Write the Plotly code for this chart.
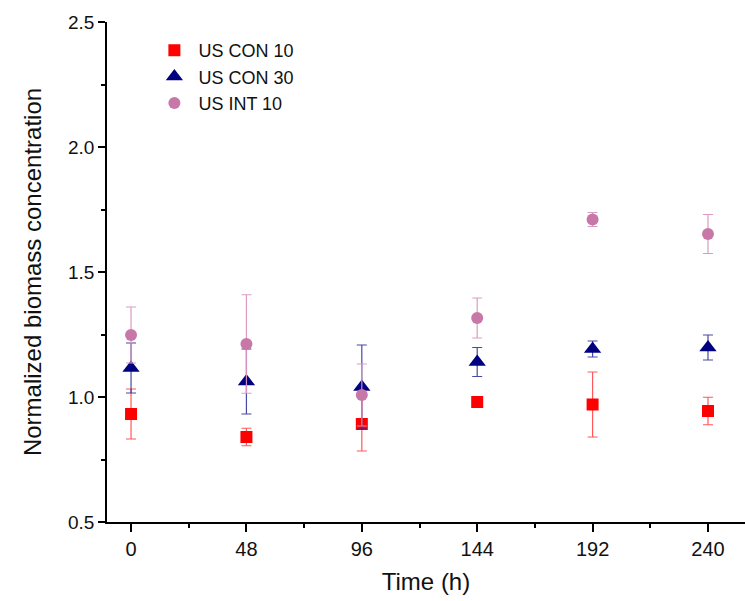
import plotly.graph_objects as go

time_h = [0, 48, 96, 144, 192, 240]

con10 = [0.932, 0.84, 0.892, 0.98, 0.97, 0.944]
con10_err = [0.10, 0.035, 0.108, 0.012, 0.13, 0.055]

con30 = [1.116, 1.062, 1.04, 1.14, 1.192, 1.198]
con30_err = [0.10, 0.13, 0.168, 0.058, 0.032, 0.05]

int10 = [1.248, 1.212, 1.008, 1.316, 1.71, 1.652]
int10_err = [0.112, 0.197, 0.124, 0.08, 0.028, 0.078]

x_ticks = [0, 48, 96, 144, 192, 240]
y_ticks = [0.5, 1.0, 1.5, 2.0, 2.5]

fig = go.Figure()

fig.add_trace(go.Scatter(
    x=time_h, y=con10, mode="markers", name="US CON 10",
    marker=dict(symbol="square", size=12, color="#FF0000"),
    error_y=dict(type="data", array=con10_err, visible=True,
                 color="rgba(255,60,60,0.85)", thickness=1.2, width=5),
))
fig.add_trace(go.Scatter(
    x=time_h, y=con30, mode="markers", name="US CON 30",
    marker=dict(symbol="triangle-up", size=15, color="#000080"),
    error_y=dict(type="data", array=con30_err, visible=True,
                 color="rgba(40,40,150,0.85)", thickness=1.2, width=5),
))
fig.add_trace(go.Scatter(
    x=time_h, y=int10, mode="markers", name="US INT 10",
    marker=dict(symbol="circle", size=12, color="#C878A8"),
    error_y=dict(type="data", array=int10_err, visible=True,
                 color="rgba(220,150,190,0.95)", thickness=1.2, width=5),
))

fig.update_layout(
    width=745, height=601,
    margin=dict(l=107, r=0, t=22, b=79),
    paper_bgcolor="white", plot_bgcolor="white",
    font=dict(family="Liberation Sans, Arial, sans-serif", size=16, color="#111"),
    showlegend=True,
    legend=dict(
        x=0.068, y=0.98, xanchor="left", yanchor="top",
        bgcolor="rgba(0,0,0,0)", font=dict(size=18, family="Liberation Sans, Arial, sans-serif"),
        itemwidth=38, tracegroupgap=0,
    ),
    xaxis=dict(
        range=[-10, 255.4], tickvals=x_ticks, ticktext=[str(t) for t in x_ticks],
        showline=True, linecolor="black", linewidth=1.5, mirror=False,
        ticks="outside", ticklen=8, tickwidth=1.5, tickcolor="black",
        minor=dict(dtick=24, tick0=0, ticks="outside", ticklen=4, tickwidth=1.5, tickcolor="black"),
        showgrid=False, zeroline=False,
        tickfont=dict(size=20),
        title=dict(text="Time (h)", font=dict(size=24), standoff=14),
    ),
    yaxis=dict(
        range=[0.5, 2.5], tickvals=y_ticks, ticktext=["0.5", "1.0", "1.5", "2.0", "2.5"],
        showline=True, linecolor="black", linewidth=1.5, mirror=False,
        ticks="outside", ticklen=7, tickwidth=1.5, tickcolor="black",
        minor=dict(dtick=0.25, tick0=0.5, ticks="outside", ticklen=4, tickwidth=1.5, tickcolor="black"),
        showgrid=False, zeroline=False,
        tickfont=dict(size=19),
        title=dict(text="Normalized biomass concentration", font=dict(size=24), standoff=20),
    ),
)

fig.write_html("out.html")
